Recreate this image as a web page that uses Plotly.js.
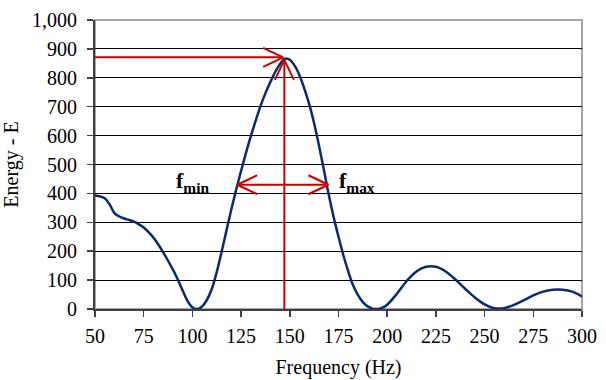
<!DOCTYPE html>
<html>
<head>
<meta charset="utf-8">
<script src="https://cdn.plot.ly/plotly-3.0.1.min.js"></script>
<style>
  html, body { margin: 0; padding: 0; background: #fff; }
  #chart { width: 606px; height: 380px; }
</style>
</head>
<body>
<div id="chart"></div>
<script>
// Energy spectrum sampled over frequency (Hz)
const frequency = [
  50, 52.5, 55, 57.5, 60, 62.5, 65, 67.5, 70, 72.5,
  75, 77.5, 80, 82.5, 85, 87.5, 90, 92.5, 95, 97.5,
  100, 102.5, 105, 107.5, 110, 112.5, 115, 117.5, 120, 122.5,
  125, 127.5, 130, 132.5, 135, 137.5, 140, 142.5, 145, 147.5,
  150, 152.5, 155, 157.5, 160, 162.5, 165, 167.5, 170, 172.5,
  175, 177.5, 180, 182.5, 185, 187.5, 190, 192.5, 195, 197.5,
  200, 205, 210, 215, 220, 225, 230, 235, 240, 245,
  250, 255, 260, 265, 270, 275, 280, 285, 290, 295, 300
];
const energy = [
  393, 390, 383, 362, 332, 320, 313, 308, 302, 293,
  282, 266, 247, 223, 196, 167, 136, 102, 64, 28,
  6, 0, 9, 32, 70, 128, 198, 272, 345, 414,
  478, 540, 598, 652, 703, 747, 785, 820, 848, 866,
  862, 842, 808, 762, 708, 642, 565, 482, 395, 318,
  250, 186, 130, 82, 48, 24, 9, 1, 0, 5,
  15, 53, 97, 130, 146, 146, 130, 102, 70, 40,
  16, 3, 3, 14, 30, 47, 60, 67, 67, 60, 43
];

// Peak marker and band edges
const peakFreq = 147.2;
const peakEnergy = 862;
const peakLevel = 871;
const bandLevel = 430;
const fMin = 123;
const fMax = 169.8;

const xTicks = [50, 75, 100, 125, 150, 175, 200, 225, 250, 275, 300];
const yTicks = [0, 100, 200, 300, 400, 500, 600, 700, 800, 900, 1000];

const red = '#c80000';
const redLine = { color: red, width: 2 };

// open chevron head at a tip, pointing along (dx, dy), sized in pixels
function chevron(tipX, tipY, dx, dy) {
  const len = 20, half = 9.5;
  const bx = -dx * len, by = -dy * len;
  const px = -dy * half, py = dx * half;
  return [
    [bx + px, by + py],
    [bx - px, by - py]
  ].map(([ox, oy]) => ({
    type: 'line', xref: 'x', yref: 'y',
    xsizemode: 'pixel', ysizemode: 'pixel',
    xanchor: tipX, yanchor: tipY,
    x0: 0, y0: 0, x1: ox, y1: oy,
    line: redLine
  }));
}

const shapes = [
  // plot frame
  { type: 'rect', xref: 'paper', yref: 'paper', x0: 0, y0: 0, x1: 1, y1: 1,
    line: { color: '#a6a6a6', width: 2 }, layer: 'below' },
  // horizontal arrow to peak
  { type: 'line', xref: 'x', yref: 'y', x0: 50, x1: peakFreq - 0.6, y0: peakLevel, y1: peakLevel, line: redLine },
  ...chevron(peakFreq - 0.6, peakLevel, 1, 0),
  // vertical arrow to peak
  { type: 'line', xref: 'x', yref: 'y', x0: peakFreq, x1: peakFreq, y0: 0, y1: peakEnergy, line: redLine },
  ...chevron(peakFreq, peakEnergy, 0, 1),
  // bandwidth double arrow
  { type: 'line', xref: 'x', yref: 'y', x0: fMin, x1: fMax, y0: bandLevel, y1: bandLevel, line: redLine },
  ...chevron(fMin, bandLevel, -1, 0),
  ...chevron(fMax, bandLevel, 1, 0)
];

const serif = '"Liberation Serif", "Times New Roman", Times, serif';

const trace = {
  x: frequency,
  y: energy,
  type: 'scatter',
  mode: 'lines',
  line: { color: '#0b2a6e', width: 2.5, shape: 'spline', smoothing: 1 },
  hoverinfo: 'skip'
};

const layout = {
  width: 606,
  height: 380,
  margin: { l: 95, r: 24, t: 20, b: 71 },
  paper_bgcolor: '#fff',
  plot_bgcolor: '#fff',
  showlegend: false,
  font: { family: serif, size: 20, color: '#000' },
  xaxis: {
    range: [50, 300],
    tickvals: xTicks,
    ticktext: xTicks.map(String),
    ticks: 'outside', ticklen: 6, tickwidth: 1.5, tickcolor: '#404040',
    showgrid: false, zeroline: false,
    showline: true, linecolor: '#404040', linewidth: 2,
    ticklabelstandoff: 2,
    tickfont: { family: serif, size: 20, color: '#000' },
    title: { text: 'Frequency (Hz)', font: { family: serif, size: 20, color: '#000' }, standoff: 14 }
  },
  yaxis: {
    range: [0, 1000],
    tickvals: yTicks,
    ticktext: yTicks.map(v => v.toLocaleString('en-US')),
    ticks: 'outside', ticklen: 6, tickwidth: 1.5, tickcolor: '#404040',
    showgrid: true, gridcolor: '#000', gridwidth: 1,
    zeroline: false,
    showline: true, linecolor: '#404040', linewidth: 2,
    ticklabelstandoff: 6,
    tickfont: { family: serif, size: 20, color: '#000' },
    title: { text: 'Energy - E', font: { family: serif, size: 20, color: '#000' }, standoff: 8 }
  },
  shapes: shapes,
  annotations: [
    { x: fMin, y: bandLevel, xref: 'x', yref: 'y', xanchor: 'right', yanchor: 'middle',
      xshift: -26, yshift: 3, showarrow: false,
      text: '<b>f<sub>min</sub></b>', font: { family: serif, size: 22, color: '#000' } },
    { x: fMax, y: bandLevel, xref: 'x', yref: 'y', xanchor: 'left', yanchor: 'middle',
      xshift: 9, yshift: 3, showarrow: false,
      text: '<b>f<sub>max</sub></b>', font: { family: serif, size: 22, color: '#000' } }
  ]
};

Plotly.newPlot('chart', [trace], layout, { staticPlot: true, displayModeBar: false });
</script>
</body>
</html>
